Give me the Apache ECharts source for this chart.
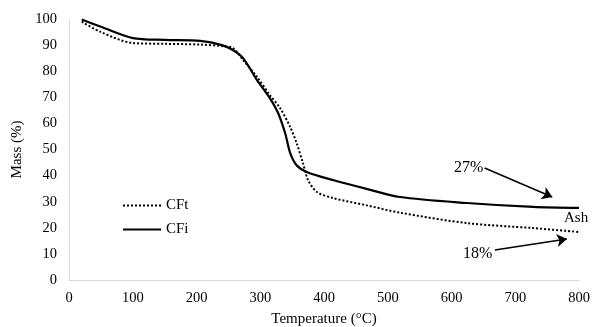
<!DOCTYPE html>
<html>
<head>
<meta charset="utf-8">
<script src="https://cdn.jsdelivr.net/npm/echarts@6/dist/echarts.min.js"></script>
<style>
  html, body { margin: 0; padding: 0; background: #fff; }
  #chart { width: 592px; height: 327px; }
</style>
</head>
<body>
<div id="chart"></div>
<script>
// temperature (°C) and mass (%)
const cfiTemp = [20, 50, 100, 150, 206, 240, 257, 273, 295, 315, 328, 339, 347, 357, 373, 414, 467, 519, 624, 728, 800];
const cfiMass = [99.8, 97, 92.7, 92, 91.6, 90, 88.1, 85, 76.6, 69.7, 64, 56.3, 48.6, 44, 41.4, 38.3, 34.9, 31.8, 29.5, 28, 27.6];

const cftTemp = [20, 50, 100, 150, 206, 240, 257, 273, 295, 315, 331, 347, 357, 367, 375, 389, 414, 467, 519, 624, 728, 800];
const cftMass = [99, 95, 90.8, 90.5, 90.2, 89.6, 88.9, 84.3, 77.8, 70.9, 65.9, 58.6, 52.5, 44.8, 38.3, 33.7, 31.4, 28.6, 25.8, 21.8, 19.9, 18.4];

const xTicks = [0, 100, 200, 300, 400, 500, 600, 700, 800];
const yTicks = [0, 10, 20, 30, 40, 50, 60, 70, 80, 90, 100];

// annotation arrows, [from, to] in data units
const arrow27 = [[652, 42.9], [758, 31.8]];
const arrow18 = [[668, 11.5], [781, 15.7]];

const font = 'Liberation Serif';
const zip = (xs, ys) => xs.map((x, i) => [x, ys[i]]);

const chart = echarts.init(document.getElementById('chart'));

chart.setOption({
  animation: false,
  textStyle: { fontFamily: font },
  grid: { left: 69, right: 13, top: 19, bottom: 47, outerBoundsMode: 'none', containLabel: false },
  legend: {
    orient: 'vertical',
    left: 117,
    top: 193,
    itemWidth: 38,
    itemHeight: 10,
    itemGap: 9,
    itemStyle: { opacity: 0 },
    textStyle: { fontFamily: font, fontSize: 15, color: '#000' },
    data: ['CFt', 'CFi']
  },
  xAxis: {
    type: 'value',
    min: xTicks[0],
    max: xTicks[xTicks.length - 1],
    interval: 100,
    name: 'Temperature (°C)',
    nameLocation: 'middle',
    nameGap: 32,
    nameTextStyle: { fontFamily: font, fontSize: 15, color: '#000' },
    axisLine: { lineStyle: { color: '#d9d9d9', width: 1 } },
    axisTick: { show: false },
    splitLine: { show: false },
    axisLabel: { fontFamily: font, fontSize: 14.5, color: '#000', margin: 11 }
  },
  yAxis: {
    type: 'value',
    min: yTicks[0],
    max: yTicks[yTicks.length - 1],
    interval: 10,
    name: 'Mass (%)',
    nameLocation: 'middle',
    nameGap: 40,
    nameTextStyle: { fontFamily: font, fontSize: 15, color: '#000' },
    axisLine: { show: true, lineStyle: { color: '#d9d9d9', width: 1 } },
    axisTick: { show: false },
    splitLine: { show: false },
    axisLabel: { fontFamily: font, fontSize: 14.5, color: '#000', margin: 12 }
  },
  series: [
    {
      name: 'CFt',
      type: 'line',
      smooth: 0.3,
      symbol: 'none',
      data: zip(cftTemp, cftMass),
      lineStyle: { color: '#000', width: 2, type: [2, 2] },
      itemStyle: { color: '#000' },
      markLine: {
        silent: true,
        symbol: ['none', 'arrow'],
        symbolSize: 10,
        label: { show: false },
        lineStyle: { color: '#000', width: 1.5, type: 'solid' },
        data: [
          [{ coord: arrow27[0] }, { coord: arrow27[1] }],
          [{ coord: arrow18[0] }, { coord: arrow18[1] }]
        ]
      }
    },
    {
      name: 'CFi',
      type: 'line',
      smooth: 0.3,
      symbol: 'none',
      data: zip(cfiTemp, cfiMass),
      lineStyle: { color: '#000', width: 2.2 },
      itemStyle: { color: '#000' }
    }
  ],
  graphic: [
    { type: 'text', left: 454, top: 160, style: { text: '27%', font: '16px "Liberation Serif"', fill: '#000' } },
    { type: 'text', left: 463, top: 246, style: { text: '18%', font: '16px "Liberation Serif"', fill: '#000' } },
    { type: 'text', left: 564, top: 211, style: { text: 'Ash', font: '15px "Liberation Serif"', fill: '#000' } }
  ]
});
</script>
</body>
</html>
